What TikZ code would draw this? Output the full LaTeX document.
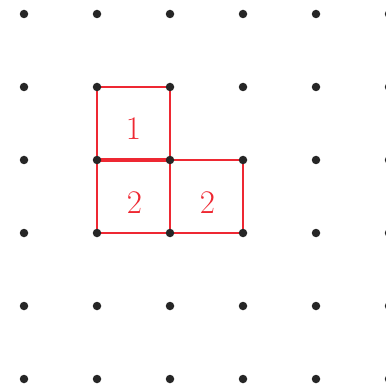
\documentclass[tikz,border=0pt]{standalone}
\begin{document}
\begin{tikzpicture}[x=1pt,y=-1pt,
  dot/.style={circle,fill=black!85,inner sep=0pt,minimum size=8.5pt},
  edge/.style={draw={rgb,255:red,238;green,40;blue,50},line width=2.3pt},
  lbl/.style={text={rgb,255:red,238;green,40;blue,50},font=\fontsize{33}{33}\selectfont,inner sep=0pt}]
\useasboundingbox (0,0) rectangle (385,387);
\foreach \i in {0,...,5}{
  \foreach \j in {0,...,5}{
    \coordinate (d-\i-\j) at ({24+73*\i},{14+73*\j});
  }
}
\draw[edge] (d-1-1) -- (d-2-1) -- (d-2-3) -- (d-1-3) -- cycle;
\draw[edge] (d-2-2) -- (d-3-2) -- (d-3-3) -- (d-2-3);
\draw[edge,line width=3.2pt] (d-1-2) -- (d-2-2);
\node[lbl] (l1) at (133.5,129) {1};
\node[lbl] (l2) at (134.5,203) {2};
\node[lbl] (l3) at (207.5,203) {2};
\foreach \i in {0,...,5}{
  \foreach \j in {0,...,5}{
    \node[dot] at (d-\i-\j) {};
  }
}
\end{tikzpicture}
\end{document}
